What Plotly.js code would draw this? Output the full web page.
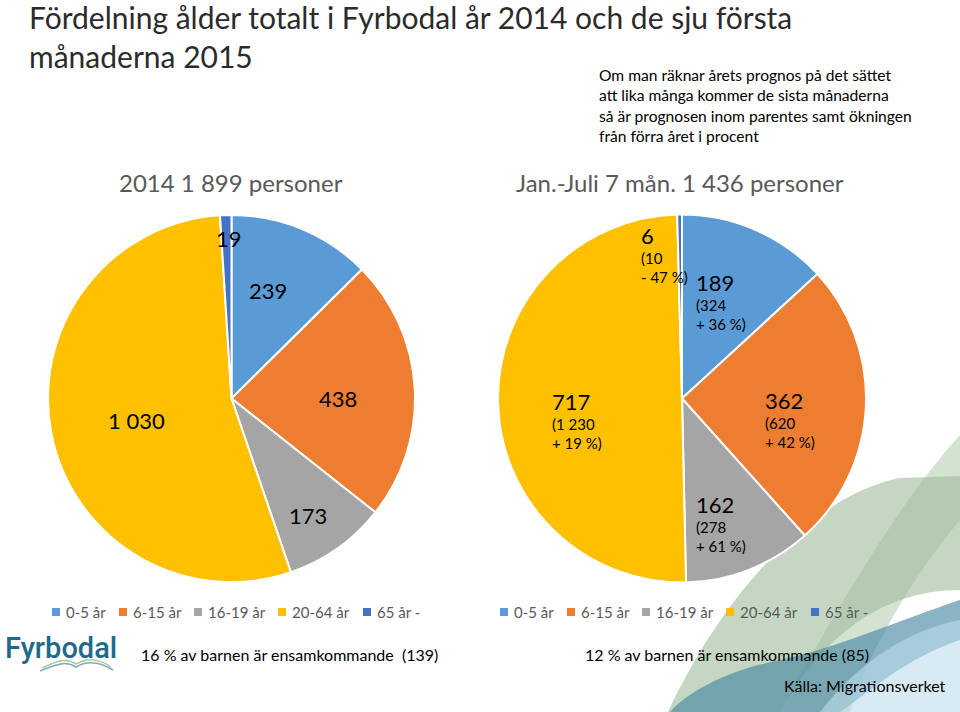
<!DOCTYPE html>
<html>
<head>
<meta charset="utf-8">
<script src="https://cdn.plot.ly/plotly-3.0.1.min.js"></script>
<style>html,body{margin:0;padding:0;background:#fff;}#chart{width:960px;height:712px;}</style>
</head>
<body>
<div id="chart"></div>
<script>
// ---- data ----
const categories = ['0-5 år', '6-15 år', '16-19 år', '20-64 år', '65 år -'];
const values2014 = [239, 438, 173, 1030, 19];
const values2015 = [189, 362, 162, 717, 6];
const prognos2015 = [324, 620, 278, 1230, 10];
const change2015 = [36, 42, 61, 19, -47];
const colors = ['#5B9BD5', '#ED7D31', '#A5A5A5', '#FFC000', '#4472C4'];

// ---- layout helpers ----
const W = 960, H = 712;
const px = x => x / W;
const py = y => 1 - y / H;
const FONT = 'Lato, "Open Sans", sans-serif';

function fmt(n) {
  return String(n).replace(/\B(?=(\d{3})+(?!\d))/g, ' ');
}

const leftDomain = {x: [48 / W, 415 / W], y: [1 - 583 / H, 1 - 214 / H]};
const rightDomain = {x: [498 / W, 866 / W], y: [1 - 583 / H, 1 - 214 / H]};

// label placement style: radius factor and angular nudge per slice
const leftLabelStyle = {r: [0.62, 0.58, 0.76, 0.53, 0.87], adj: [-4, 3, 2, -2, 1]};
const rightLabelStyle = {r: [0.57, 0.60, 0.71, 0.58, 0.79], adj: [-2, 8, 4, -10, -6]};

function labelAnnotations(values, domain, style, textFn, baseSize) {
  const x0 = domain.x[0] * W, x1 = domain.x[1] * W;
  const y0 = (1 - domain.y[1]) * H, y1 = (1 - domain.y[0]) * H;
  const cx = (x0 + x1) / 2, cy = (y0 + y1) / 2;
  const R = Math.min(x1 - x0, y1 - y0) / 2;
  const total = values.reduce((a, b) => a + b, 0);
  let cum = 0;
  return values.map((v, i) => {
    const mid = (cum + v / 2) / total;
    cum += v;
    const ang = (mid * 360 + style.adj[i]) * Math.PI / 180;
    const r = style.r[i] * R;
    return {
      xref: 'paper', yref: 'paper',
      x: px(cx + r * Math.sin(ang)), y: py(cy - r * Math.cos(ang)),
      xanchor: 'center', yanchor: 'middle', align: 'left',
      showarrow: false, text: textFn(v, i),
      font: {family: FONT, size: baseSize, color: '#000'}
    };
  });
}

const leftLabels = labelAnnotations(values2014, leftDomain, leftLabelStyle, v => fmt(v), 22);
const rightLabels = labelAnnotations(values2015, rightDomain, rightLabelStyle, (v, i) => {
  const c = change2015[i];
  const sign = c < 0 ? '- ' : '+ ';
  return '<span style="font-size:22px">' + fmt(v) + '</span><br>(' + fmt(prognos2015[i]) +
    '<br>' + sign + Math.abs(c) + ' %)';
}, 15);

const traces = [
  {
    type: 'pie', labels: categories, values: values2014,
    marker: {colors: colors, line: {color: '#ffffff', width: 2}},
    sort: false, direction: 'clockwise', rotation: 0,
    textinfo: 'none', hoverinfo: 'label+value',
    domain: leftDomain, showlegend: false
  },
  {
    type: 'pie', labels: categories, values: values2015,
    marker: {colors: colors, line: {color: '#ffffff', width: 2}},
    sort: false, direction: 'clockwise', rotation: 0,
    textinfo: 'none', hoverinfo: 'label+value',
    domain: rightDomain, showlegend: false
  }
];

// ---- custom legends (one under each pie), built from categories/colors ----
const legendItemOffsets = [0, 67, 142, 226, 311];
const legendStarts = [56, 504];
const legendY = 612;
const legendShapes = [];
const legendTexts = [];
legendStarts.forEach(x0 => {
  categories.forEach((cat, i) => {
    const cx = x0 + legendItemOffsets[i];
    legendShapes.push({
      type: 'rect', xref: 'paper', yref: 'paper',
      x0: px(cx - 4), x1: px(cx + 4), y0: py(legendY + 4), y1: py(legendY - 4),
      fillcolor: colors[i], line: {width: 0}
    });
    legendTexts.push({
      xref: 'paper', yref: 'paper', x: px(cx + 8), y: py(legendY),
      xanchor: 'left', yanchor: 'middle', showarrow: false, text: cat,
      font: {family: FONT, size: 15, color: '#595959'}
    });
  });
});

const decoShapes = [
  // decorative swoosh, bottom right
  {type: 'path', xref: 'paper', yref: 'paper', layer: 'below', line: {width: 0},
   fillcolor: 'rgba(150,180,145,0.55)',
   path: `M ${px(668)},${py(712)} C ${px(720)},${py(600)} ${px(810)},${py(495)} ${px(900)},${py(478)} L ${px(960)},${py(476)} L ${px(960)},${py(590)} C ${px(880)},${py(590)} ${px(820)},${py(640)} ${px(780)},${py(712)} Z`},
  {type: 'path', xref: 'paper', yref: 'paper', layer: 'below', line: {width: 0},
   fillcolor: 'rgba(160,190,155,0.45)',
   path: `M ${px(780)},${py(712)} C ${px(830)},${py(620)} ${px(900)},${py(500)} ${px(960)},${py(435)} L ${px(960)},${py(520)} C ${px(910)},${py(580)} ${px(870)},${py(650)} ${px(850)},${py(712)} Z`},
  {type: 'path', xref: 'paper', yref: 'paper', layer: 'below', line: {width: 0},
   fillcolor: 'rgba(60,130,160,0.6)',
   path: `M ${px(670)},${py(712)} C ${px(690)},${py(690)} ${px(730)},${py(670)} ${px(780)},${py(660)} C ${px(830)},${py(650)} ${px(900)},${py(620)} ${px(960)},${py(600)} L ${px(960)},${py(640)} C ${px(900)},${py(660)} ${px(860)},${py(700)} ${px(840)},${py(712)} Z`},
  {type: 'path', xref: 'paper', yref: 'paper', layer: 'below', line: {width: 0},
   fillcolor: 'rgba(190,220,235,0.6)',
   path: `M ${px(820)},${py(712)} C ${px(860)},${py(660)} ${px(910)},${py(630)} ${px(960)},${py(620)} L ${px(960)},${py(712)} Z`},
  // logo wave
  {type: 'path', xref: 'paper', yref: 'paper', line: {color: '#7fa9b8', width: 1.5},
   path: `M ${px(40)},${py(671)} C ${px(55)},${py(665)} ${px(65)},${py(660)} ${px(76)},${py(667)} C ${px(88)},${py(660)} ${px(100)},${py(662)} ${px(113)},${py(670)}`},
  {type: 'path', xref: 'paper', yref: 'paper', line: {color: '#a9c8a4', width: 1.5},
   path: `M ${px(42)},${py(668)} C ${px(55)},${py(662)} ${px(65)},${py(657)} ${px(76)},${py(664)} C ${px(88)},${py(657)} ${px(100)},${py(659)} ${px(111)},${py(667)}`}
];

const textAnn = [
  {x: px(27), y: 1 + 3 / H, text: 'Fördelning ålder totalt i Fyrbodal år 2014 och de sju första<br>månaderna 2015', size: 30, color: '#2b2b2b', xanchor: 'left', yanchor: 'top', align: 'left'},
  {x: px(231), y: py(182), text: '2014 1 899 personer', size: 24, color: '#595959', xanchor: 'center'},
  {x: px(680), y: py(182), text: 'Jan.-Juli 7 mån. 1 436 personer', size: 24, color: '#595959', xanchor: 'center'},
  {x: px(597), y: py(106), text: 'Om man räknar årets prognos på det sättet<br>att lika många kommer de sista månaderna<br>så är prognosen inom parentes samt ökningen<br>från förra året i procent', size: 15.6, color: '#000', xanchor: 'left', align: 'left'},
  {x: px(289), y: py(654), text: '16 % av barnen är ensamkommande  (139)', size: 16, color: '#000', xanchor: 'center'},
  {x: px(727), y: py(654), text: '12 % av barnen är ensamkommande (85)', size: 16, color: '#000', xanchor: 'center'},
  {x: px(948), y: py(685), text: 'Källa: Migrationsverket', size: 16, color: '#000', xanchor: 'right'},
  {x: px(3), y: py(648), text: 'Fyrbodal', size: 29, color: '#1d6a8a', xanchor: 'left', family: 'Roboto, sans-serif', weight: 500}
].map(a => ({
  xref: 'paper', yref: 'paper', x: a.x, y: a.y, xanchor: a.xanchor, yanchor: a.yanchor || 'middle',
  align: a.align || 'center', showarrow: false, text: a.text,
  font: {family: a.family || FONT, size: a.size, color: a.color, weight: a.weight || 400}
}));

const layout = {
  width: W, height: H,
  margin: {l: 0, r: 0, t: 0, b: 0},
  paper_bgcolor: '#ffffff',
  showlegend: false,
  shapes: decoShapes.concat(legendShapes),
  annotations: textAnn.concat(legendTexts, leftLabels, rightLabels)
};

Plotly.newPlot('chart', traces, layout, {displayModeBar: false, staticPlot: true});
</script>
</body>
</html>
